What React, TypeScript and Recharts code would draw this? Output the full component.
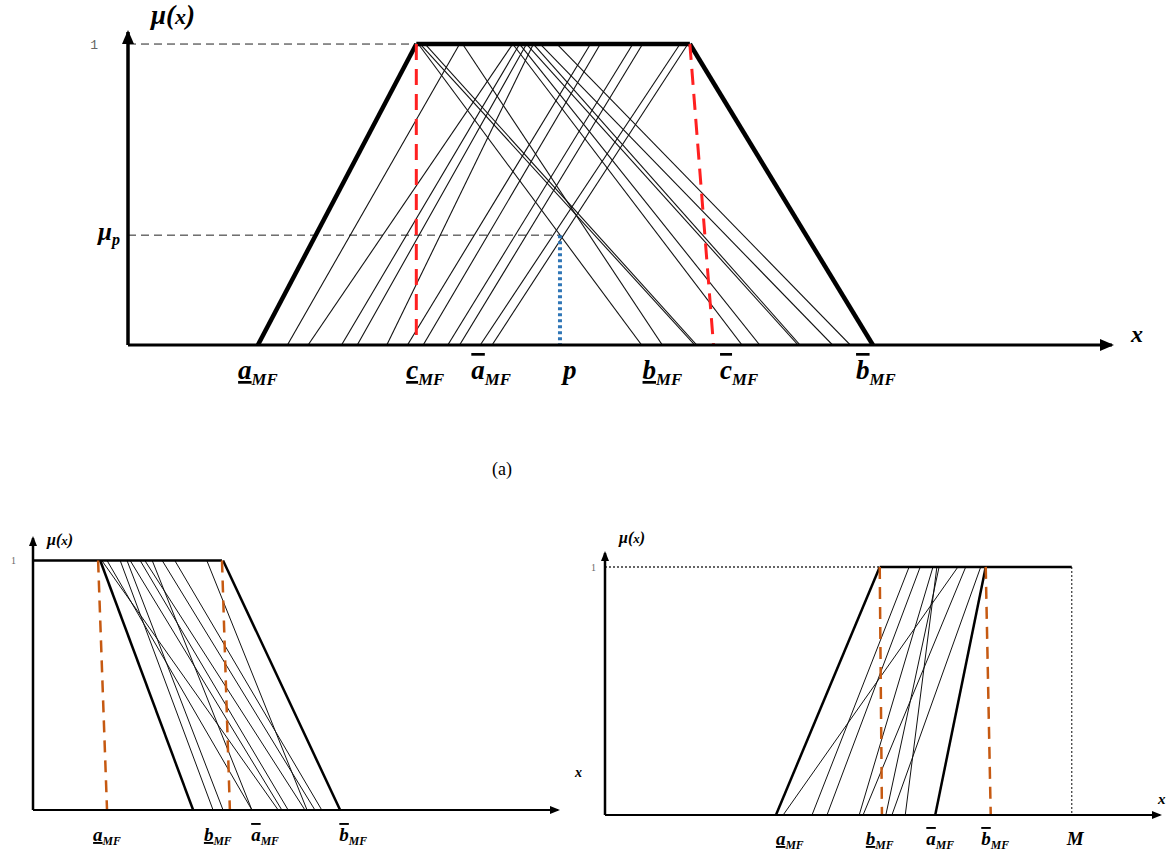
import React from "react";
import { LineChart, Line, XAxis, YAxis, ReferenceDot } from "recharts";

const serif = "Liberation Serif, Times New Roman, serif";

// ---------- panel (a) ----------
const aTrap = [13.2, 29.3, 57.1, 75.7]; // foot, shoulder, shoulder, foot
const aRiseFoot = [16.2, 18.3, 21.7, 23.3, 26.3, 28.4, 30.0, 32.5, 33.7, 35.8, 37.0];
const aRiseTop = [33.7, 39.1, 39.8, 40.5, 41.2, 47.0, 48.0, 51.3, 52.3, 56.1, 56.9];
const aFallTop = [29.5, 29.7, 30.2, 34.0, 39.1, 39.8, 40.5, 41.2, 41.9, 43.6];
const aFallFoot = [52.2, 57.6, 57.8, 54.3, 62.4, 64.2, 68.1, 68.3, 71.6, 73.4];
const aCUpperFoot = 59.5;
const aP = 43.9;
const aMuP = 0.365;
const aTicks = [13.2, 30.2, 36.9, 44.9, 54.3, 62.1, 76.0];
const aTickBase = ["a", "c", "a", "p", "b", "c", "b"];
const aTickMark = ["under", "under", "over", "", "under", "over", "over"];
const aTickSub = ["MF", "MF", "MF", "", "MF", "MF", "MF"];

// ---------- panel bottom-left ----------
const lTopEnd = 36.0;
const lLower = [12.8, 30.5]; // top, foot
const lUpper = [36.2, 58.5];
const lDashA = [12.4, 14.1];
const lDashB = [36.0, 37.5];
const lThinTop = [13.1, 14.1, 16.6, 17.9, 18.5, 20.4, 21.3, 22.7, 24.6, 27.0, 33.1];
const lThinFoot = [46.7, 41.7, 34.3, 36.2, 47.4, 48.6, 51.8, 41.7, 53.7, 55.0, 52.2];
const lTicks = [14.1, 35.2, 44.2, 61.0];
const lTickBase = ["a", "b", "a", "b"];
const lTickMark = ["under", "under", "over", "over"];
const lTickSub = ["MF", "MF", "MF", "MF"];

// ---------- panel bottom-right ----------
const rLower = [30.8, 49.5]; // foot, top
const rUpper = [59.5, 68.6];
const rM = 84.1;
const rDashA = [49.5, 49.9];
const rDashB = [68.6, 69.5];
const rThinFoot = [32.1, 37.3, 40.0, 45.8, 46.5, 50.6, 51.7, 54.1];
const rThinTop = [63.6, 54.8, 56.8, 59.1, 65.0, 60.2, 67.7, 59.8];
const rTicks = [33.3, 49.5, 60.4, 70.3, 84.7];
const rTickBase = ["a", "b", "a", "b", "M"];
const rTickMark = ["under", "under", "over", "over", ""];
const rTickSub = ["MF", "MF", "MF", "MF", ""];

type Pt = { x: number; y: number };
type Seg = { pts: Pt[]; stroke: string; width: number; dash?: string };

const seg = (x0: number, y0: number, x1: number, y1: number, stroke = "#000", width = 1, dash?: string): Seg => ({
  pts: [{ x: x0, y: y0 }, { x: x1, y: y1 }],
  stroke,
  width,
  dash,
});

const makeXTick = (ticks: number[], base: string[], mark: string[], sub: string[], size: number, dy: number) =>
  (props: any) => {
    const { x, y, payload } = props;
    const i = ticks.indexOf(payload.value);
    if (i < 0) return <g />;
    const deco = mark[i] === "under" ? "underline" : mark[i] === "over" ? "overline" : "none";
    return (
      <text x={x} y={y + dy} textAnchor="middle" fontFamily={serif} fontStyle="italic" fontWeight="bold" fontSize={size} fill="#000">
        <tspan style={{ textDecoration: deco }}>{base[i]}</tspan>
        {sub[i] ? (
          <tspan fontSize={size * 0.62} dy={size * 0.22}>
            {sub[i]}
          </tspan>
        ) : null}
      </text>
    );
  };

const upArrow = (s: number) => (p: any) => (
  <path d={`M${p.cx},${p.cy - 2} L${p.cx - s / 2},${p.cy + s} L${p.cx + s / 2},${p.cy + s} Z`} fill="#000" />
);
const rightArrow = (s: number) => (p: any) => (
  <path d={`M${p.cx + 2},${p.cy} L${p.cx - s},${p.cy - s / 2} L${p.cx - s},${p.cy + s / 2} Z`} fill="#000" />
);

interface PanelProps {
  w: number;
  h: number;
  mt: number;
  mr: number;
  yW: number;
  xH: number;
  yMax: number;
  segs: Seg[];
  axisW: number;
  arrow: number;
  xTicks: number[];
  xTick: any;
  yTicks: number[];
  yTick: any;
}

const Panel = ({ w, h, mt, mr, yW, xH, yMax, segs, axisW, arrow, xTicks, xTick, yTicks, yTick }: PanelProps) => (
  <LineChart width={w} height={h} margin={{ top: mt, right: mr, bottom: 0, left: 0 }}>
    <XAxis
      dataKey="x"
      type="number"
      domain={[0, 100]}
      ticks={xTicks}
      tick={xTick}
      tickLine={false}
      tickSize={0}
      tickMargin={0}
      height={xH}
      interval={0}
      axisLine={{ stroke: "#000", strokeWidth: axisW }}
      allowDataOverflow
    />
    <YAxis
      type="number"
      domain={[0, yMax]}
      ticks={yTicks}
      tick={yTick}
      tickLine={false}
      tickSize={0}
      tickMargin={0}
      width={yW}
      interval={0}
      axisLine={{ stroke: "#000", strokeWidth: axisW + 0.5 }}
      allowDataOverflow
    />
    {segs.map((s, i) => (
      <Line
        key={i}
        data={s.pts}
        dataKey="y"
        stroke={s.stroke}
        strokeWidth={s.width}
        strokeDasharray={s.dash}
        dot={false}
        activeDot={false}
        isAnimationActive={false}
        type="linear"
      />
    ))}
    <ReferenceDot x={0} y={yMax} r={0} shape={upArrow(arrow)} ifOverflow="visible" />
    <ReferenceDot x={100} y={0} r={0} shape={rightArrow(arrow)} ifOverflow="visible" />
  </LineChart>
);

export default function App() {
  const red = "#ff2020";
  const orange = "#c65911";

  const aSegs: Seg[] = [
    seg(0, 1, aTrap[1], 1, "#222", 1, "8 5"),
    seg(0, aMuP, aP, aMuP, "#222", 1, "8 5"),
    ...aRiseFoot.map((f, i) => seg(f, 0, aRiseTop[i], 1, "#111", 1.1)),
    ...aFallTop.map((t, i) => seg(t, 1, aFallFoot[i], 0, "#111", 1.1)),
    seg(aTrap[0], 0, aTrap[1], 1, "#000", 4.5),
    seg(aTrap[1], 1, aTrap[2], 1, "#000", 4.5),
    seg(aTrap[2], 1, aTrap[3], 0, "#000", 4.5),
    seg(aTrap[1], 1, aTrap[1], 0, red, 3, "16 9"),
    seg(aTrap[2], 1, aCUpperFoot, 0, red, 3, "16 9"),
    seg(aP, aMuP, aP, 0, "#2e75b6", 4, "3 3"),
  ];

  const lSegs: Seg[] = [
    ...lThinTop.map((t, i) => seg(t, 1, lThinFoot[i], 0, "#111", 1)),
    seg(0, 1, lTopEnd, 1, "#000", 2.5),
    seg(lLower[0], 1, lLower[1], 0, "#000", 2.5),
    seg(lUpper[0], 1, lUpper[1], 0, "#000", 2.5),
    seg(lDashA[0], 1, lDashA[1], 0, orange, 2.5, "12 8"),
    seg(lDashB[0], 1, lDashB[1], 0, orange, 2.5, "12 8"),
  ];

  const rSegs: Seg[] = [
    seg(0, 1, rLower[1], 1, "#333", 1.5, "2 2"),
    seg(rM, 1, rM, 0, "#333", 1.2, "2 2"),
    ...rThinFoot.map((f, i) => seg(f, 0, rThinTop[i], 1, "#111", 1)),
    seg(rLower[1], 1, rM, 1, "#000", 2.5),
    seg(rLower[0], 0, rLower[1], 1, "#000", 2.5),
    seg(rUpper[0], 0, rUpper[1], 1, "#000", 2.5),
    seg(rDashA[0], 1, rDashA[1], 0, orange, 2.5, "12 8"),
    seg(rDashB[0], 1, rDashB[1], 0, orange, 2.5, "12 8"),
  ];

  const aYTick = (p: any) => {
    const v = p.payload.value;
    if (v === 1)
      return (
        <text x={p.x - 30} y={p.y + 5} textAnchor="end" fontFamily="Liberation Mono, monospace" fontSize={13} fill="#666">
          1
        </text>
      );
    return (
      <text x={p.x - 8} y={p.y + 5} textAnchor="end" fontFamily={serif} fontStyle="italic" fontWeight="bold" fontSize={25} fill="#000">
        μ<tspan fontSize={16} dy={5}>p</tspan>
      </text>
    );
  };
  const smallYTick = (dx: number) => (p: any) => (
    <text x={p.x - dx} y={p.y + 4} textAnchor="end" fontFamily={serif} fontSize={10} fill="#666">
      1
    </text>
  );

  const lbl = (left: number, top: number, size: number, bold = true): React.CSSProperties => ({
    position: "absolute",
    left,
    top,
    fontFamily: serif,
    fontStyle: "italic",
    fontWeight: bold ? "bold" : "normal",
    fontSize: size,
    lineHeight: 1,
    whiteSpace: "nowrap",
  });

  return (
    <div style={{ position: "absolute", left: 0, top: 0, width: 1173, height: 852, background: "#fff", overflow: "hidden" }}>
      <div style={{ position: "absolute", left: 0, top: 0 }}>
        <Panel
          w={1173}
          h={420}
          mt={32}
          mr={61}
          yW={128}
          xH={75}
          yMax={1.04}
          segs={aSegs}
          axisW={3}
          arrow={12}
          xTicks={aTicks}
          xTick={makeXTick(aTicks, aTickBase, aTickMark, aTickSub, 27, 34)}
          yTicks={[aMuP, 1]}
          yTick={aYTick}
        />
      </div>
      <div style={{ position: "absolute", left: 0, top: 520 }}>
        <Panel
          w={600}
          h={332}
          mt={18}
          mr={42}
          yW={33}
          xH={42}
          yMax={1.09}
          segs={lSegs}
          axisW={2}
          arrow={8}
          xTicks={lTicks}
          xTick={makeXTick(lTicks, lTickBase, lTickMark, lTickSub, 19, 31)}
          yTicks={[1]}
          yTick={smallYTick(17)}
        />
      </div>
      <div style={{ position: "absolute", left: 580, top: 520 }}>
        <Panel
          w={593}
          h={332}
          mt={33}
          mr={13}
          yW={25}
          xH={37}
          yMax={1.056}
          segs={rSegs}
          axisW={2}
          arrow={8}
          xTicks={rTicks}
          xTick={makeXTick(rTicks, rTickBase, rTickMark, rTickSub, 19, 30)}
          yTicks={[1]}
          yTick={smallYTick(9)}
        />
      </div>

      <span style={lbl(151, 2, 27)}>
        μ(<span style={{ fontSize: 22 }}>x</span>)
      </span>
      <span style={lbl(1131, 322, 24)}>x</span>
      <span style={{ ...lbl(492, 460, 18, false), fontStyle: "normal" }}>(a)</span>

      <span style={lbl(47, 532, 16)}>
        μ(<span style={{ fontSize: 13 }}>x</span>)
      </span>
      <span style={lbl(575, 766, 14)}>x</span>

      <span style={lbl(619, 530, 16)}>
        μ(<span style={{ fontSize: 13 }}>x</span>)
      </span>
      <span style={lbl(1158, 792, 15)}>x</span>
    </div>
  );
}
